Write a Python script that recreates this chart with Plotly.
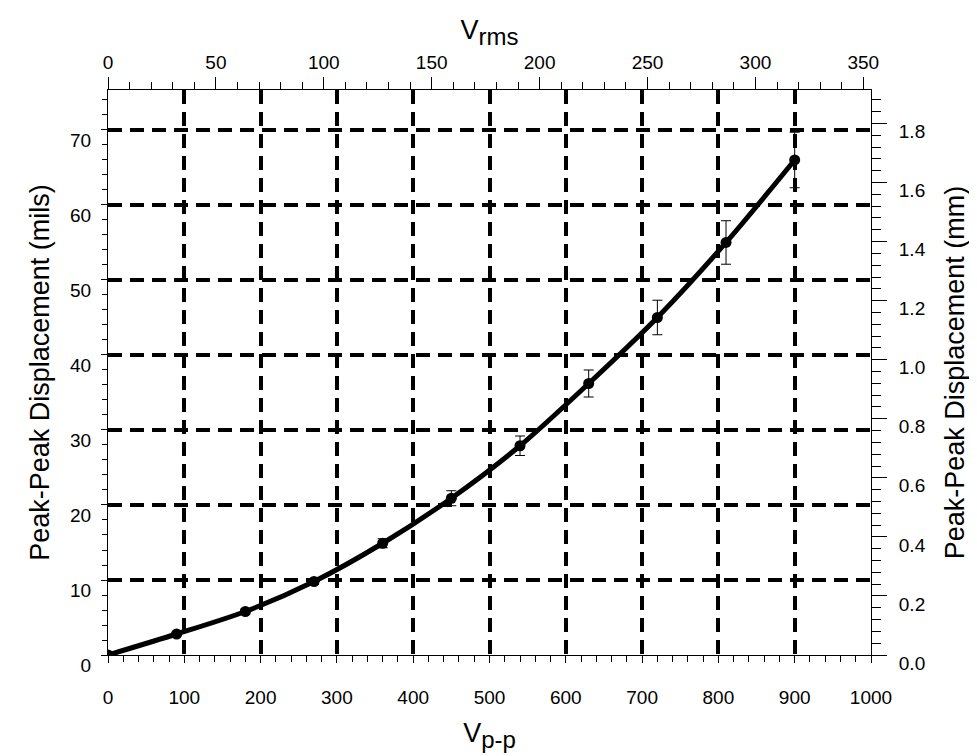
import math
import plotly.graph_objects as go

# ---- data ----
vpp = [0, 90, 180, 270, 360, 450, 540, 630, 720, 810, 900]
disp_mils = [0.0, 2.8, 5.8, 9.8, 14.9, 20.9, 27.9, 36.2, 45.0, 55.0, 66.0]
err_mils = [0.1, 0.2, 0.3, 0.4, 0.6, 1.0, 1.3, 1.8, 2.3, 2.9, 3.7]

x_ticks_vpp = [0, 100, 200, 300, 400, 500, 600, 700, 800, 900, 1000]
x_ticks_vrms = [0, 50, 100, 150, 200, 250, 300, 350]
y_ticks_mils = [0, 10, 20, 30, 40, 50, 60, 70]
y_ticks_mm = [0.0, 0.2, 0.4, 0.6, 0.8, 1.0, 1.2, 1.4, 1.6, 1.8]

VPP_MAX = 1000
MILS_MAX = 75.33
MIL_TO_MM = 0.0254
RMS_FACTOR = 2 * math.sqrt(2)

vrms = [v / RMS_FACTOR for v in vpp]
disp_mm = [d * MIL_TO_MM for d in disp_mils]

FONT = "Liberation Sans, Arial, sans-serif"

fig = go.Figure()
fig.add_trace(go.Scatter(
    x=vpp, y=disp_mils, mode="lines+markers",
    line=dict(color="black", width=5, shape="spline", smoothing=0.8),
    marker=dict(color="black", size=11),
    error_y=dict(type="data", array=err_mils, color="black", thickness=1, width=5),
    showlegend=False, hoverinfo="skip",
))
# invisible companion trace so that the secondary (top/right) axes exist
fig.add_trace(go.Scatter(
    x=vrms, y=disp_mm, xaxis="x2", yaxis="y2", mode="markers",
    marker=dict(opacity=0), showlegend=False, hoverinfo="skip",
))

grid = dict(showgrid=True, gridcolor="black", gridwidth=4, griddash="14px,8px")
tickfont = dict(family=FONT, size=19, color="black")
titlefont = dict(family=FONT, size=27, color="black")

fig.update_layout(
    width=977, height=756,
    margin=dict(l=100, r=114, t=82, b=109, autoexpand=False),
    paper_bgcolor="white", plot_bgcolor="white",
    font=dict(family=FONT, color="black"),
    xaxis=dict(
        range=[0, VPP_MAX], tickvals=x_ticks_vpp, ticks="outside", ticklen=7,
        tickcolor="black", showline=True, linecolor="black", linewidth=1,
        zeroline=False, tickfont=tickfont, ticklabelstandoff=18, automargin=False,
        minor=dict(dtick=20, ticks="outside", ticklen=6, tickcolor="black", showgrid=False),
        title=dict(text="V<sub><span style='font-size:24px'>p-p</span></sub>",
                   font=titlefont, standoff=16),
        **grid,
    ),
    xaxis2=dict(
        range=[0, VPP_MAX / RMS_FACTOR], tickvals=x_ticks_vrms, overlaying="x", side="top",
        anchor="y", ticks="outside", ticklen=12, tickcolor="black", showline=True,
        linecolor="black", linewidth=1, zeroline=False, showgrid=False, tickfont=tickfont,
        ticklabelstandoff=0, automargin=False,
        minor=dict(dtick=10, ticks="outside", ticklen=7, tickcolor="black", showgrid=False),
        title=dict(text="V<sub><span style='font-size:24px'>rms</span></sub>",
                   font=titlefont, standoff=4),
    ),
    yaxis=dict(
        range=[0, MILS_MAX], tickvals=y_ticks_mils, ticks="outside", ticklen=6,
        tickcolor="black", showline=True, linecolor="black", linewidth=1,
        zeroline=False, tickfont=tickfont, ticklabelstandoff=6, ticklabelshift=10,
        automargin=False,
        minor=dict(dtick=2, ticks="outside", ticklen=5, tickcolor="black", showgrid=False),
        title=dict(text="Peak-Peak Displacement (mils)", font=titlefont, standoff=12),
        **grid,
    ),
    yaxis2=dict(
        range=[0, MILS_MAX * MIL_TO_MM], tickvals=y_ticks_mm, tickformat=".1f",
        overlaying="y", side="right", anchor="x", ticks="outside", ticklen=15,
        tickcolor="black", showline=True, linecolor="black", linewidth=1,
        zeroline=False, showgrid=False, tickfont=tickfont, ticklabelstandoff=8,
        ticklabelshift=8, automargin=False,
        minor=dict(dtick=0.04, ticks="outside", ticklen=9, tickcolor="black", showgrid=False),
        title=dict(text="Peak-Peak Displacement (mm)", font=titlefont, standoff=20),
    ),
)

fig.write_html("out.html")
